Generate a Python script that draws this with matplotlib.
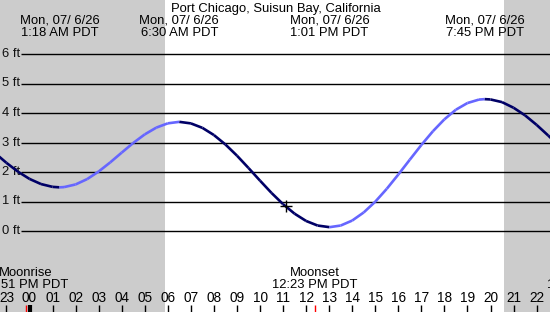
import numpy as np
import matplotlib.pyplot as plt

# tide heights (ft), hours from local midnight
hours = [-1.5, -1.0, -0.5, 0.0, 0.5, 1.0, 1.3, 1.5, 2.0, 2.5, 3.0, 3.5, 4.0,
         4.5, 5.0, 5.5, 6.0, 6.5, 7.0, 7.5, 8.0, 8.5, 9.0, 9.5, 10.0, 10.5,
         11.0, 11.5, 12.0, 12.5, 13.017, 13.5, 14.0, 14.5, 15.0, 15.5, 16.0,
         16.5, 17.0, 17.5, 18.0, 18.5, 19.0, 19.5, 19.75, 20.0, 20.5, 21.0,
         21.5, 22.0, 22.5, 23.0]
height = [2.645, 2.31, 2.011, 1.766, 1.591, 1.496, 1.48, 1.488, 1.578, 1.759,
          2.016, 2.324, 2.657, 2.984, 3.275, 3.504, 3.650, 3.70, 3.648, 3.497,
          3.253, 2.933, 2.555, 2.137, 1.708, 1.290, 0.910, 0.587, 0.340, 0.185,
          0.13, 0.185, 0.354, 0.629, 0.993, 1.430, 1.914, 2.418, 2.916, 3.380,
          3.786, 4.112, 4.338, 4.455, 4.47, 4.459, 4.369, 4.178, 3.92, 3.598,
          3.239, 2.868]

title = "Port Chicago, Suisun Bay, California"
tide_times = [1.30, 6.50, 13.017, 19.75]
tide_labels = ["Mon, 07/ 6/26\n1:18 AM PDT", "Mon, 07/ 6/26\n6:30 AM PDT",
               "Mon, 07/ 6/26\n1:01 PM PDT", "Mon, 07/ 6/26\n7:45 PM PDT"]
moon_times = [-0.15, 12.38, 24.27]
moon_labels = ["Moonrise\n11:51 PM PDT", "Moonset\n12:23 PM PDT",
               "Moonrise\n12:16 AM PDT"]
sunrise, sunset = 5.88, 20.59
now_time, now_height = 11.13, 0.86
ft_levels = [0, 1, 2, 3, 4, 5, 6]
hour_ticks = list(range(-1, 24))

W, H = 550, 312
px_hr = 23.05
x0 = -29.5 / px_hr
x1 = x0 + W / px_hr
px_ft = 29.5
y1 = 231 / px_ft
y0 = -(H - 231) / px_ft

plt.rcParams['font.family'] = ['Liberation Sans', 'DejaVu Sans']
fs = 9.4

fig = plt.figure(figsize=(W / 100, H / 100), dpi=100)
ax = fig.add_axes([0, 0, 1, 1])
ax.set_axis_off()
ax.set_xlim(x0, x1)
ax.set_ylim(y0, y1)

# night
ax.axvspan(x0, sunrise, color="#cccccc", lw=0, zorder=0)
ax.axvspan(sunset, x1, color="#cccccc", lw=0, zorder=0)

# height grid
ax.hlines(ft_levels, (21 - 29.5) / px_hr, x1, colors="black", lw=1, zorder=1)
for lv in ft_levels:
    ax.text(0.004, lv, "%d ft" % lv, transform=ax.get_yaxis_transform(),
            ha="left", va="center", fontsize=fs, color="#111111")

# tide curve: dark when falling, light when rising
t = np.array(hours)
h = np.array(height)
for i in range(len(t) - 1):
    c = "#6666ff" if h[i + 1] > h[i] else "#000066"
    ax.plot(t[i:i + 2], h[i:i + 2], color=c, lw=1.9, solid_capstyle="butt",
            zorder=3)
ax.plot(now_time, now_height, marker="+", color="black", ms=8, mew=1,
        zorder=4)

xt = ax.get_xaxis_transform()
ax.text((275.5 - 29.5) / px_hr, 1 - 9 / H, title, transform=xt, ha="center",
        va="center", fontsize=fs)
for tt, lab in zip(tide_times, tide_labels):
    ax.text(tt, 1 - 26.5 / H, lab, transform=xt, ha="center", va="center",
            fontsize=fs, linespacing=1.0)
for tt, lab in zip(moon_times, moon_labels):
    ax.text(tt, 1 - 279.5 / H, lab, transform=xt, ha="center", va="center",
            fontsize=fs, linespacing=1.0)

# hour axis
for hr in hour_ticks:
    ax.text(hr, 1 - 298 / H, "%02d" % (hr % 24), transform=xt, ha="center",
            va="center", fontsize=9.8)
ax.vlines([hr for hr in hour_ticks if hr % 24 != 0], 0, 7 / H, transform=xt,
          colors="black", lw=1)
ax.vlines([0], 0, 7 / H, transform=xt, colors="black", lw=3)
ax.vlines(moon_times, 0, 7 / H, transform=xt, colors="red", lw=1)

fig.savefig("out.png", dpi=100)
